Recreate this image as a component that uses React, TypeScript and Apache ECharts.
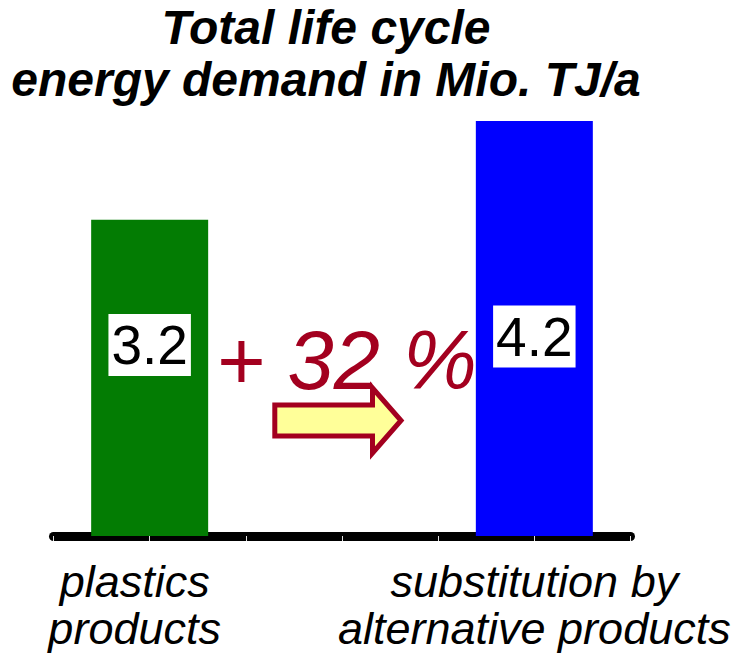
import React, { useEffect, useRef } from "react";
import * as echarts from "echarts";

// Total life cycle energy demand, Mio. TJ per year
const categories = ["plastics\nproducts", "substitution by\nalternative products"];
const energyDemand = [3.2, 4.2];
const changeText = "+ 32 %";
const titleLines = ["Total life cycle", "energy demand in Mio. TJ/a"];

const FONT = "'Liberation Sans', Arial, Helvetica, sans-serif";
const DARK_RED = "#A3001F";
const BAR_COLORS = ["#037C03", "#0000FF"];
// the two bars sit on the 2nd and 6th tick of a 0..6 slot axis
const SLOTS = [1, 5];
const LABEL_OFFSETS = [
  [0, -33],
  [0, 8],
];
const LABEL_RICH = ["left", "plain"];

export default function App() {
  const ref = useRef<HTMLDivElement>(null);

  useEffect(() => {
    document.body.style.margin = "0";
    if (!ref.current) return;
    const chart = echarts.init(ref.current, null, { renderer: "svg" });

    const seriesData = energyDemand.map((v, i) => ({
      value: [SLOTS[i], v],
      itemStyle: { color: BAR_COLORS[i] },
      label: { offset: LABEL_OFFSETS[i] },
    }));

    const catLabel = {
      fontFamily: FONT,
      fontStyle: "italic",
      fontSize: 45,
      lineHeight: 47,
      color: "#000",
    };

    chart.setOption({
      animation: false,
      backgroundColor: "#ffffff",
      grid: {
        left: 53.5,
        right: 119.5,
        top: 42,
        bottom: 121,
        outerBoundsMode: "none",
      },
      xAxis: {
        type: "value",
        min: 0,
        max: 6,
        interval: 1,
        splitLine: { show: false },
        axisLine: {
          show: true,
          onZero: false,
          lineStyle: { color: "#000", width: 9, cap: "round" },
        },
        axisTick: { show: true, length: 5, lineStyle: { color: "#e2e2e2", width: 1 } },
        axisLabel: {
          show: true,
          margin: 22,
          showMinLabel: true,
          showMaxLabel: true,
          formatter: (v: number) => {
            const i = SLOTS.indexOf(v);
            if (i < 0) return "";
            const key = LABEL_RICH[i];
            return categories[i]
              .split("\n")
              .map((line) => `{${key}|${line}}`)
              .join("\n");
          },
          rich: {
            left: { ...catLabel, padding: [0, 30, 0, 0] },
            plain: { ...catLabel },
          },
        },
      },
      yAxis: {
        type: "value",
        min: 0,
        max: 5,
        show: false,
        splitLine: { show: false },
      },
      series: [
        {
          type: "bar",
          barWidth: 117,
          data: seriesData,
          label: {
            show: true,
            position: "inside",
            formatter: (p: any) => String(p.value[1]),
            fontFamily: FONT,
            fontSize: 55,
            lineHeight: 56,
            color: "#000",
            backgroundColor: "#fff",
            padding: [3, 3, 3, 3],
          },
        },
      ],
      graphic: [
        {
          type: "text",
          x: 326,
          y: 1,
          style: {
            text: titleLines.join("\n"),
            fontFamily: FONT,
            fontSize: 48,
            fontWeight: "bold",
            fontStyle: "italic",
            lineHeight: 52,
            fill: "#000",
            align: "center",
            verticalAlign: "top",
          },
        },
        {
          type: "text",
          x: 216,
          y: 360,
          z: 10,
          style: {
            text: changeText,
            fontFamily: FONT,
            fontSize: 83,
            fontStyle: "italic",
            fill: DARK_RED,
            align: "left",
            verticalAlign: "middle",
          },
        },
        {
          type: "polygon",
          z: 20,
          shape: {
            points: [
              [274.8, 405],
              [372.5, 405],
              [372.5, 388],
              [401, 420.5],
              [372.5, 453],
              [372.5, 436],
              [274.8, 436],
            ],
          },
          style: { fill: "#FFFF99", stroke: DARK_RED, lineWidth: 5, lineJoin: "miter" },
        },
      ],
    });

    return () => chart.dispose();
  }, []);

  return <div ref={ref} style={{ width: 750, height: 657 }} />;
}
